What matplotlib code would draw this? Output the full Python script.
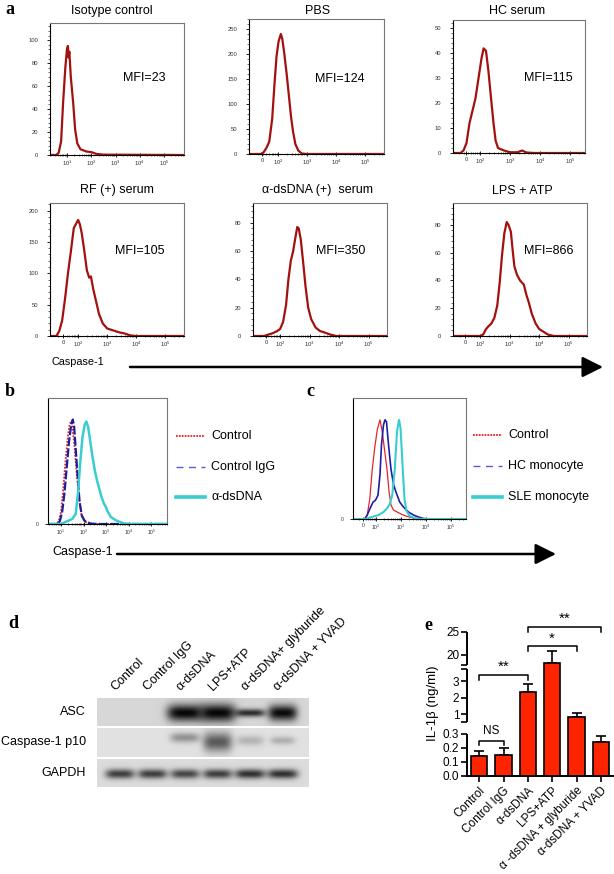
import numpy as np
import matplotlib
matplotlib.use('Agg')
import matplotlib.pyplot as plt
from matplotlib.lines import Line2D
from matplotlib.patches import FancyArrowPatch
from matplotlib.ticker import AutoMinorLocator
from matplotlib.transforms import blended_transform_factory

plt.rcParams['font.family'] = ['Liberation Sans', 'DejaVu Sans']
plt.rcParams['mathtext.default'] = 'regular'

# ------------------------------------------------------------------ data
# Panel a: histograms (x in log-decade display units, y = cell count)
iso_x = [0.29, 0.55, 0.65, 0.75, 0.83, 0.92, 0.99, 1.03, 1.06, 1.09, 1.15, 1.25, 1.33, 1.42, 1.55, 1.8, 2.0, 2.2, 2.5, 5.83]
iso_y = [0, 0, 2, 12, 45, 75, 92, 95, 85, 90, 68, 45, 22, 10, 5, 3, 2.5, 1, 0.3, 0]
pbs_x = [1.0, 1.4, 1.5, 1.6, 1.7, 1.8, 1.88, 1.95, 2.02, 2.1, 2.15, 2.22, 2.3, 2.38, 2.45, 2.52, 2.6, 2.7, 2.82, 3.0, 5.66]
pbs_y = [0, 0, 3, 12, 25, 70, 140, 195, 225, 240, 230, 200, 160, 115, 75, 45, 20, 7, 1, 0, 0]
hc_x = [1.1, 1.35, 1.45, 1.55, 1.65, 1.75, 1.85, 1.95, 2.05, 2.12, 2.2, 2.28, 2.36, 2.45, 2.52, 2.6, 2.8, 3.0, 3.25, 3.4, 3.55, 3.8, 5.5]
hc_y = [0, 0, 1, 4, 12, 17, 22, 30, 38, 42, 41, 33, 23, 12, 5, 2, 1, 0.3, 0.3, 1, 0.2, 0, 0]
rf_x = [1.03, 1.25, 1.35, 1.45, 1.55, 1.65, 1.75, 1.85, 1.92, 2.0, 2.06, 2.12, 2.2, 2.3, 2.38, 2.44, 2.52, 2.62, 2.72, 2.85, 3.0, 3.2, 3.4, 3.6, 3.8, 4.0, 5.65]
rf_y = [0, 0, 8, 25, 60, 100, 135, 172, 178, 185, 178, 165, 140, 105, 93, 95, 75, 55, 35, 20, 12, 9, 6, 4, 1, 0, 0]
ds_x = [1.08, 1.45, 1.6, 1.75, 1.9, 2.0, 2.1, 2.2, 2.28, 2.36, 2.44, 2.52, 2.58, 2.63, 2.7, 2.78, 2.86, 2.95, 3.05, 3.2, 3.35, 3.5, 3.7, 3.9, 5.62]
ds_y = [0, 0, 1, 2, 3.5, 5, 10, 22, 40, 53, 60, 70, 77, 76, 68, 52, 35, 20, 12, 6, 3.5, 2.5, 1, 0, 0]
lps_x = [1.08, 2.0, 2.1, 2.2, 2.28, 2.38, 2.48, 2.58, 2.66, 2.74, 2.82, 2.9, 2.96, 3.04, 3.1, 3.16, 3.25, 3.35, 3.48, 3.56, 3.65, 3.75, 3.88, 4.0, 4.15, 4.3, 4.5, 5.62]
lps_y = [0, 0, 1, 5, 7, 9, 13, 22, 38, 58, 74, 82, 80, 75, 62, 50, 44, 40, 37, 30, 24, 16, 9, 5, 3, 1, 0, 0]
titles_a = ['Isotype control', 'PBS', 'HC serum', 'RF (+) serum', 'α-dsDNA (+)  serum', 'LPS + ATP']
mfi_a = [23, 124, 115, 105, 350, 866]

# Panel b (% of max)
b_ctrl_x = [0.42, 0.8, 0.9, 1.0, 1.1, 1.2, 1.3, 1.38, 1.44, 1.5, 1.6, 1.7, 1.8, 1.9, 2.0, 2.15, 2.4, 5.7]
b_ctrl_y = [0, 0, 3, 12, 35, 62, 85, 97, 100, 95, 75, 48, 25, 10, 4, 1, 0, 0]
b_igg_x = [0.42, 0.85, 0.95, 1.05, 1.15, 1.25, 1.35, 1.45, 1.52, 1.58, 1.66, 1.74, 1.82, 1.92, 2.05, 2.3, 2.6, 5.7]
b_igg_y = [0, 0, 3, 12, 30, 55, 80, 97, 102, 95, 70, 45, 22, 8, 3, 0.5, 0, 0]
b_ds_x = [0.42, 1.0, 1.1, 1.3, 1.5, 1.65, 1.75, 1.85, 1.95, 2.05, 2.12, 2.2, 2.3, 2.4, 2.5, 2.6, 2.7, 2.8, 2.9, 2.98, 3.05, 3.2, 3.4, 3.6, 3.8, 4.0, 5.7]
b_ds_y = [0, 0, 1, 3, 5, 10, 30, 60, 85, 97, 100, 95, 80, 65, 52, 42, 34, 26, 20, 17, 13, 7, 4, 2, 0.5, 0, 0]
b_labels = ['Control', 'Control IgG', 'α-dsDNA']

# Panel c (% of max)
c_ctrl_x = [1.08, 1.55, 1.65, 1.75, 1.85, 1.95, 2.05, 2.16, 2.25, 2.35, 2.44, 2.52, 2.6, 2.7, 2.85, 3.0, 3.2, 3.4, 3.65, 5.6]
c_ctrl_y = [0, 0, 4, 20, 50, 72, 90, 100, 88, 68, 50, 28, 14, 9, 7, 5, 3, 1.5, 0, 0]
c_hc_x = [1.08, 1.55, 1.65, 1.75, 1.88, 1.98, 2.08, 2.16, 2.22, 2.3, 2.36, 2.42, 2.5, 2.6, 2.7, 2.8, 2.95, 3.1, 3.3, 3.5, 3.7, 3.9, 4.1, 5.6]
c_hc_y = [0, 0, 4, 10, 17, 19, 24, 45, 75, 95, 100, 98, 75, 50, 35, 27, 17, 12, 7, 4, 2, 0.5, 0, 0]
c_sle_x = [1.08, 1.6, 1.7, 1.9, 2.1, 2.3, 2.45, 2.55, 2.65, 2.75, 2.84, 2.92, 2.98, 3.06, 3.14, 3.22, 3.35, 3.55, 3.8, 5.6]
c_sle_y = [0, 0, 1, 2.5, 4, 7, 11, 15, 24, 50, 88, 100, 92, 55, 20, 8, 3, 1, 0, 0]
c_labels = ['Control', 'HC monocyte', 'SLE monocyte']

# Panel d: western blot band intensities (0 = none, 1 = saturated)
lanes_d = ['Control', 'Control IgG', 'α-dsDNA', 'LPS+ATP', 'α-dsDNA+ glyburide', 'α-dsDNA + YVAD']
rows_d = ['ASC', 'Caspase-1 p10', 'GAPDH']
asc_int = [0.0, 0.0, 0.97, 0.97, 0.8, 0.95]
casp_int = [0.0, 0.0, 0.35, 0.6, 0.2, 0.22]
gapdh_int = [0.72, 0.72, 0.68, 0.72, 0.78, 0.78]

# Panel e: IL-1beta (ng/ml)
groups_e = ['Control', 'Control IgG', 'α-dsDNA', 'LPS+ATP', 'α -dsDNA + glyburide', 'α-dsDNA + YVAD']
il1b = [0.143, 0.15, 2.35, 18.3, 0.82, 0.243]
il1b_err = [0.037, 0.05, 0.45, 2.6, 0.24, 0.045]

# ------------------------------------------------------------------ helpers
W, H = 614, 874
fig = plt.figure(figsize=(W / 100, H / 100), dpi=100)


def axpx(l, t, r, b):
    return fig.add_axes([l / W, 1 - b / H, (r - l) / W, (b - t) / H])


def ftext(x, y, s, **kw):
    return fig.text(x / W, 1 - y / H, s, **kw)


def fline(x0, x1, y, **kw):
    fig.add_artist(Line2D([x0 / W, x1 / W], [1 - y / H, 1 - y / H], transform=fig.transFigure, **kw))


def farrow(x0, x1, y):
    fig.add_artist(FancyArrowPatch((x0 / W, 1 - y / H), (x1 / W, 1 - y / H), transform=fig.transFigure,
                                   arrowstyle='-|>,head_length=0.9,head_width=0.45', mutation_scale=14,
                                   lw=1.8, color='black', shrinkA=0, shrinkB=0))


def hist_axes(box, xlim, xt, xtl, ylim, yt, ytl=None, fs=4.2, ypad=6):
    ax = axpx(*box)
    ax.set_xlim(xlim)
    ax.set_ylim(ylim)
    ax.set_xticks(xt)
    ax.set_xticklabels(xtl, fontsize=fs, color='#333333')
    ax.set_yticks(yt)
    ax.set_yticklabels(ytl if ytl is not None else [str(v) for v in yt], fontsize=fs, color='#333333')
    minors = [d + np.log10(k) for d in range(0, 6) for k in range(2, 10)
              if xlim[0] < d + np.log10(k) < xlim[1]]
    ax.set_xticks(minors, minor=True)
    ax.tick_params(axis='x', which='major', length=2.5, width=0.6, pad=1.5, direction='inout')
    ax.tick_params(axis='x', which='minor', length=1.6, width=0.4, direction='inout')
    ax.tick_params(axis='y', which='major', length=2.5, width=0.6, pad=ypad)
    ax.tick_params(axis='y', which='minor', length=1.5, width=0.4)
    for s in ax.spines.values():
        s.set_linewidth(0.8)
    ax.spines['top'].set_color('#777777')
    ax.spines['right'].set_color('#777777')
    return ax


dec = ['$10^1$', '$10^2$', '$10^3$', '$10^4$', '$10^5$']

# ------------------------------------------------------------------ panel a
a_specs = [
    ((50, 23, 184, 155), (0.29, 5.83), [1, 2, 3, 4, 5], dec, (0, 115), [0, 20, 40, 60, 80, 100], iso_x, iso_y,
     (112, 11), (144, 78)),
    ((249, 19, 384, 154), (1.0, 5.66), [1.45, 2, 3, 4, 5], ['0'] + dec[1:], (0, 270), [0, 50, 100, 150, 200, 250],
     pbs_x, pbs_y, (318, 11), (340, 79)),
    ((453, 20, 585, 153), (1.1, 5.5), [1.53, 2, 3, 4, 5], ['0'] + dec[1:], (0, 53.4), [0, 10, 20, 30, 40, 50],
     hc_x, hc_y, (517, 11), (548, 78)),
    ((50, 203, 184, 336), (1.03, 5.65), [1.48, 2, 3, 4, 5], ['0'] + dec[1:], (0, 212), [0, 50, 100, 150, 200],
     rf_x, rf_y, (117, 190), (140, 251)),
    ((253, 203, 387, 336), (1.08, 5.62), [1.52, 2, 3, 4, 5], ['0'] + dec[1:], (0, 94), [0, 20, 40, 60, 80],
     ds_x, ds_y, (317, 190), (341, 251)),
    ((453, 203, 587, 336), (1.08, 5.62), [1.49, 2, 3, 4, 5], ['0'] + dec[1:], (0, 95.7), [0, 20, 40, 60, 80],
     lps_x, lps_y, (522, 191), (549, 251)),
]
for i, (box, xl, xt, xtl, yl, yt, cx, cy, tpos, mpos) in enumerate(a_specs):
    ax = hist_axes(box, xl, xt, xtl, yl, yt)
    ax.yaxis.set_minor_locator(AutoMinorLocator(5))
    ax.plot(cx, cy, color='#A3110F', lw=1.6, solid_joinstyle='round')
    ftext(tpos[0], tpos[1], titles_a[i], ha='center', va='center', fontsize=9)
    ftext(mpos[0], mpos[1], f'MFI={mfi_a[i]}', ha='center', va='center', fontsize=9)

ftext(52, 362, 'Caspase-1', ha='left', va='center', fontsize=7.8)
farrow(130, 603, 367)

# ------------------------------------------------------------------ panel b
axb = hist_axes((48, 398, 167, 524), (0.42, 5.7), [1, 2, 3, 4, 5], dec, (0, 123), [0], ['0'], fs=3.6, ypad=4)
axb.plot(b_ctrl_x, b_ctrl_y, color='#E2262B', lw=1.3, ls=(0, (1, 0.8)))
axb.plot(b_igg_x, b_igg_y, color='#1E1E9A', lw=1.6, ls=(0, (4, 1)))
axb.plot(b_ds_x, b_ds_y, color='#38CDD0', lw=1.8)
b_styles = [dict(color='#E2262B', lw=1.3, ls=(0, (1, 0.6))),
            dict(color='#5A5AD0', lw=1.0, ls=(0, (5, 4))),
            dict(color='#38CDD0', lw=2.6)]
for lab, st, yy in zip(b_labels, b_styles, [436, 467, 497]):
    fline(176, 205, yy, **st)
    ftext(211, yy, lab, ha='left', va='center', fontsize=9)

# ------------------------------------------------------------------ panel c
axc = hist_axes((353, 398, 466, 519), (1.08, 5.6), [1.48, 2, 3, 4, 5], ['0'] + dec[1:], (0, 122), [0], ['0'],
                fs=3.6, ypad=4)
axc.plot(c_ctrl_x, c_ctrl_y, color='#E2262B', lw=0.9)
axc.plot(c_hc_x, c_hc_y, color='#1E1EA8', lw=1.2)
axc.plot(c_sle_x, c_sle_y, color='#38CDD0', lw=1.5)
c_styles = [dict(color='#E2262B', lw=1.3, ls=(0, (1, 0.6))),
            dict(color='#5A5AD0', lw=1.0, ls=(0, (5, 4))),
            dict(color='#38CDD0', lw=2.6)]
for lab, st, yy in zip(c_labels, c_styles, [435, 466, 497]):
    fline(473, 502, yy, **st)
    ftext(508, yy, lab, ha='left', va='center', fontsize=9)

ftext(52, 552, 'Caspase-1', ha='left', va='center', fontsize=9)
farrow(117, 556, 554)

# ------------------------------------------------------------------ panel d
xs = np.linspace(0.3, 6.8, 320)
ys = np.linspace(0, 1, 40)
XX, YY = np.meshgrid(xs, ys)


def blot(intens, bg, yc, hy, wx):
    img = np.full(XX.shape, bg)
    for i, I in enumerate(intens):
        prof = np.exp(-np.abs((XX - (i + 1)) / wx[i]) ** 4) * np.exp(-((YY - yc[i]) / hy[i]) ** 2)
        img = img * (1 - I * prof)
    return np.clip(img, 0, 1)


blot_rows = [
    (asc_int, 0.84, [0.55] * 6, [0.3, 0.3, 0.3, 0.32, 0.14, 0.28], [0.55, 0.55, 0.56, 0.56, 0.47, 0.45]),
    (casp_int, 0.88, [0.4, 0.4, 0.35, 0.5, 0.45, 0.45], [0.2, 0.2, 0.17, 0.33, 0.17, 0.14], [0.45, 0.45, 0.45, 0.45, 0.42, 0.38]),
    (gapdh_int, 0.86, [0.55] * 6, [0.17] * 6, [0.45, 0.45, 0.45, 0.45, 0.47, 0.47]),
]
row_boxes = [(97, 698, 309, 726), (97, 728, 309, 757), (97, 759, 309, 787)]
blot_axes = []
for (intens, bg, yc, hy, wx), box, lab in zip(blot_rows, row_boxes, rows_d):
    ax = axpx(*box)
    ax.imshow(blot(intens, bg, yc, hy, wx), cmap='gray', vmin=0, vmax=1, extent=(0.3, 6.8, 1, 0),
              aspect='auto', interpolation='bilinear')
    ax.axis('off')
    blot_axes.append(ax)
    ftext(86, (box[1] + box[3]) / 2, lab, ha='right', va='center', fontsize=9)

tr = blended_transform_factory(blot_axes[0].transData, blot_axes[0].transAxes)
for i, lab in enumerate(lanes_d):
    blot_axes[0].text(i + 1 - 0.08, 1.18, lab, transform=tr, rotation=45, ha='left', va='bottom',
                      rotation_mode='anchor', fontsize=9)

# ------------------------------------------------------------------ panel e
Y_DATA = [-1.0, 0.0, 0.3, 0.52, 3.73, 17.8, 25.0, 40.0]
Y_PIX = [-140.0, 0.0, 42.0, 54.0, 107.0, 111.0, 144.0, 213.0]


def fwd(y):
    return np.interp(np.asarray(y, dtype=float), Y_DATA, Y_PIX)


def inv(p):
    return np.interp(np.asarray(p, dtype=float), Y_PIX, Y_DATA)


BASE = 776  # pixel row of y = 0


def yv(ypix):
    return float(inv(BASE - ypix))


axe = axpx(467, 632, 613, 776)
axe.set_yscale('function', functions=(fwd, inv))
axe.set_xlim(-0.5, 5.5)
axe.set_ylim(0, 25)
xpos = np.arange(len(il1b))
axe.bar(xpos, il1b, width=0.66, color='#FF2400', edgecolor='black', lw=1.2, zorder=2)
axe.errorbar(xpos, il1b, yerr=[np.zeros(len(il1b)), il1b_err], fmt='none', ecolor='black',
             elinewidth=1.2, capsize=3.5, capthick=1.2, zorder=1)
axe.set_yticks([0, 0.1, 0.2, 0.3, 1, 2, 3, 20, 25])
axe.set_yticklabels(['0.0', '0.1', '0.2', '0.3', '1', '2', '3', '20', '25'], fontsize=8.5)
axe.set_yticks([0.52, 3.73, 17.8], minor=True)
axe.tick_params(axis='y', which='both', length=4, width=1.2, pad=1.5)
axe.set_xticks(xpos)
axe.set_xticklabels(groups_e, rotation=45, ha='right', rotation_mode='anchor', fontsize=8.5)
axe.tick_params(axis='x', length=4, width=1.2, pad=2)
axe.spines['left'].set_visible(False)
axe.spines['top'].set_visible(False)
axe.spines['right'].set_visible(False)
axe.spines['bottom'].set_linewidth(1.4)
for seg in [(0, 0.3), (0.52, 3.73), (17.8, 25)]:
    axe.plot([-0.5, -0.5], seg, color='black', lw=1.4, clip_on=False, solid_capstyle='butt')


def bracket(x0, x1, ytop, drop, label, ytext, fs):
    axe.plot([x0, x0, x1, x1], [yv(ytop + drop), yv(ytop), yv(ytop), yv(ytop + drop)],
             color='black', lw=1.1, clip_on=False)
    axe.text((x0 + x1) / 2, yv(ytext), label, ha='center', va='center', fontsize=fs)


bracket(0, 1, 741, 4, 'NS', 731, 8.5)
bracket(0, 2, 675, 5, '**', 667, 11)
bracket(2, 4, 646, 5, '*', 639, 11)
bracket(2, 5, 627, 5, '**', 619, 11)
ftext(433, 703, 'IL-1β (ng/ml)', rotation=90, ha='center', va='center', fontsize=9.5)

# ------------------------------------------------------------------ panel letters
for s, (x, y) in zip('abcde', [(10, 9), (10, 391), (310, 391), (13, 624), (428, 625)]):
    ftext(x, y, s, ha='center', va='center', fontsize=13, fontweight='bold', family='Liberation Serif')

fig.savefig('out.png', dpi=100)
